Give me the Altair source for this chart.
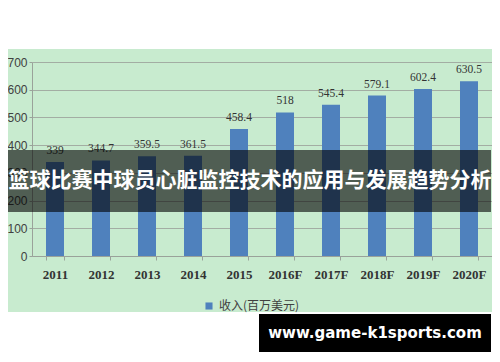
import altair as alt
import pandas as pd

years = ["2011", "2012", "2013", "2014", "2015", "2016F", "2017F", "2018F", "2019F", "2020F"]
revenue = [339, 344.7, 359.5, 361.5, 458.4, 518, 545.4, 579.1, 602.4, 630.5]
label_text = ["339", "344.7", "359.5", "361.5", "458.4", "518", "545.4", "579.1", "602.4", "630.5"]
series_name = "收入(百万美元)"
y_ticks = [0, 100, 200, 300, 400, 500, 600, 700]
overlay_title = "篮球比赛中球员心脏监控技术的应用与发展趋势分析"
watermark = "www.game-k1sports.com"

df = pd.DataFrame({"year": years, "value": revenue, "label": label_text, "series": [series_name] * len(years)})

W, H = 460, 194
GREEN = "#c8ebcf"
BLUE = "#4f81bd"

x_enc = alt.X("year:N", sort=years, title=None,
              scale=alt.Scale(paddingInner=0.6, paddingOuter=0.3),
              axis=alt.Axis(labelAngle=0, labelFont="Liberation Serif", labelFontSize=13,
                            labelFontWeight="bold", labelColor="#333333", labelPadding=8,
                            tickBand="extent", tickSize=4, tickColor="#9aa29a",
                            domainColor="#9aa29a", grid=False))
y_enc = alt.Y("value:Q", title=None,
              scale=alt.Scale(domain=[0, 700], nice=False),
              axis=alt.Axis(values=y_ticks, labelFont="Liberation Sans", labelFontSize=12,
                            labelColor="#404040", labelPadding=2, tickSize=3,
                            labelOverlap=False, labelFlush=False,
                            tickColor="#9aa29a", domainColor="#9aa29a",
                            gridColor="#a3ada3", gridWidth=1))

top_white = alt.Chart(pd.DataFrame({"a": [0]})).mark_rect(color="white").encode(
    x=alt.value(-24), x2=alt.value(W), y=alt.value(-54), y2=alt.value(-13))
bottom_white = alt.Chart(pd.DataFrame({"a": [0]})).mark_rect(color="white").encode(
    x=alt.value(-24), x2=alt.value(W), y=alt.value(250), y2=alt.value(H + 100))

bars = alt.Chart(df).mark_bar(size=18).encode(
    x=x_enc, y=y_enc,
    color=alt.Color("series:N", scale=alt.Scale(range=[BLUE]),
                    legend=alt.Legend(title=None, orient="none", legendX=171, legendY=238,
                                      symbolType="square", symbolSize=50, symbolStrokeWidth=0,
                                      labelFont="Noto Sans CJK SC", labelFontSize=12,
                                      labelColor="#404040")))

labels = alt.Chart(df).mark_text(baseline="bottom", dy=-6, font="Liberation Serif",
                                 fontSize=11.5, color="#333333").encode(
    x=x_enc, y=y_enc, text="label:N")

band = alt.Chart(pd.DataFrame({"a": [0]})).mark_rect(color="black", opacity=0.6).encode(
    x=alt.value(-24), x2=alt.value(W - 1), y=alt.value(88), y2=alt.value(150))
band_text = alt.Chart(pd.DataFrame({"t": [overlay_title]})).mark_text(
    font="Noto Sans CJK SC", fontSize=21, fontWeight="bold", color="white",
    align="center", baseline="middle").encode(
    text="t:N", x=alt.value(218), y=alt.value(119))

wm_box = alt.Chart(pd.DataFrame({"a": [0]})).mark_rect(color="black").encode(
    x=alt.value(227), x2=alt.value(459), y=alt.value(252), y2=alt.value(290))
wm_text = alt.Chart(pd.DataFrame({"t": [watermark]})).mark_text(
    font="DejaVu Sans", fontSize=15, fontWeight="bold", color="white",
    align="center", baseline="middle").encode(
    text="t:N", x=alt.value(343), y=alt.value(271))

chart = alt.layer(top_white, bottom_white, bars, labels, band, band_text, wm_box, wm_text).properties(
    width=W, height=H,
    autosize=alt.AutoSizeParams(type="none"),
    padding={"left": 24, "top": 54, "right": 0, "bottom": 100},
    background=GREEN,
).configure_view(stroke=None)

chart.save("out.html", embed_options={"renderer": "svg", "actions": False})
